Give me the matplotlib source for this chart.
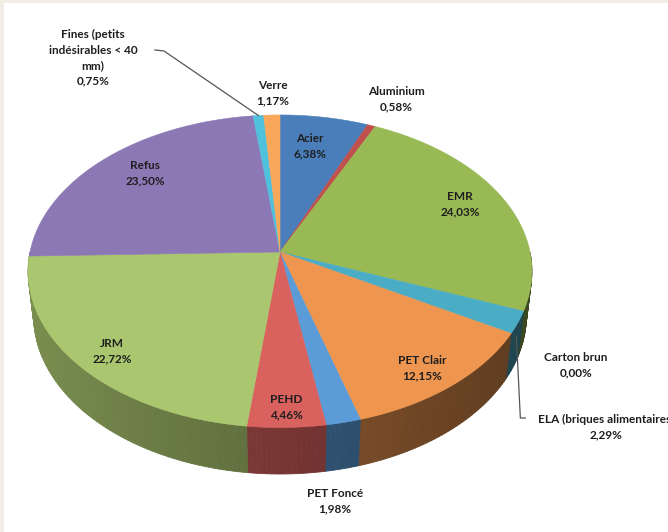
import numpy as np
import matplotlib
matplotlib.use("Agg")
import matplotlib.pyplot as plt
from matplotlib.patches import Rectangle

# ---------------- data ----------------
categories = ["Acier", "Aluminium", "EMR", "Carton brun",
              "ELA (briques alimentaires)", "PET Clair", "PET Foncé", "PEHD",
              "JRM", "Refus", "Fines (petits\nindésirables < 40\nmm)", "Verre"]
values = [6.38, 0.58, 24.03, 0.00, 2.29, 12.15, 1.98, 4.46, 22.72, 23.50, 0.75, 1.17]
colors = ["#4A7EBB", "#C0504D", "#98B954", "#8064A2", "#4BACC6", "#EE964F",
          "#5B9BD8", "#D9615E", "#AAC66E", "#8D78B6", "#4FC1DD", "#F9A85A"]

# ---------------- layout (pixel space) ----------------
W, H = 668, 532
fig = plt.figure(figsize=(W / 100, H / 100), dpi=100)
fig.patch.set_facecolor("#F1EDE4")
ax = fig.add_axes([0, 0, 1, 1])
ax.set_xlim(0, W)
ax.set_ylim(H, 0)
ax.axis("off")
ax.add_patch(Rectangle((4, 3), W, H, facecolor="white", edgecolor="none", zorder=0))

CX, CY = 280.0, 252.0
R = 250.0
ALPHA = np.radians(38)
D = 6.4 * R
THICK = 58.0


def proj(theta_deg, z):
    t = np.radians(theta_deg)
    u = R * np.sin(t)
    v = R * np.cos(t)
    up = v * np.sin(ALPHA) + z * np.cos(ALPHA)
    depth = v * np.cos(ALPHA) - z * np.sin(ALPHA)
    s = D / (D + depth)
    return CX + u * s, CY - up * s


def shade(col, f):
    c = np.array(matplotlib.colors.to_rgb(col))
    return tuple(np.clip(c * f, 0, 1))


total = sum(values)
starts = np.concatenate([[0], np.cumsum(values)[:-1]]) / total * 360
ends = np.cumsum(values) / total * 360

# sides (front half 90..270)
for a0, a1, col in zip(starts, ends, colors):
    lo, hi = max(a0, 90), min(a1, 270)
    if hi <= lo:
        continue
    n = max(2, int((hi - lo) / 1.0) + 1)
    th = np.linspace(lo, hi, n)
    for i in range(n - 1):
        ta, tb = th[i], th[i + 1]
        xa, ya = proj(ta, 0)
        xb, yb = proj(tb, 0)
        xc, yc = proj(tb, -THICK)
        xd, yd = proj(ta, -THICK)
        tm = np.radians((ta + tb) / 2)
        f = 0.55 - 0.17 * np.sin(tm)
        c = shade(col, f)
        ax.fill([xa, xb, xc, xd], [ya, yb, yc, yd], color=c, lw=0.6, ec=c, zorder=2)

# top faces
for a0, a1, col in zip(starts, ends, colors):
    if a1 - a0 <= 0:
        continue
    th = np.linspace(a0, a1, max(3, int(a1 - a0) * 2 + 2))
    xs, ys = proj(th, 0)
    ax.fill(np.r_[CX, xs], np.r_[CY, ys], color=col, lw=0.4, ec=col, zorder=3)


def fmt(v):
    return f"{v:.2f}".replace(".", ",") + "%"


label_pos = {
    "Acier": (310, 146), "Aluminium": (396, 99), "EMR": (460, 204),
    "Carton brun": (576, 365), "ELA (briques alimentaires)": (606, 427),
    "PET Clair": (422, 368), "PET Foncé": (335, 501), "PEHD": (286, 407),
    "JRM": (112, 351), "Refus": (145, 173),
    "Fines (petits\nindésirables < 40\nmm)": (93, 58), "Verre": (273, 93),
}
font = dict(family=["Lato", "DejaVu Sans"], fontweight="bold", fontsize=8.5,
            color="#1E1E1E", ha="center", va="center", linespacing=1.5, zorder=6)
for cat, v in zip(categories, values):
    x, y = label_pos[cat]
    ax.text(x, y, cat + "\n" + fmt(v), **font)

# leader lines
fi = categories.index("Fines (petits\nindésirables < 40\nmm)")
fx, fy = proj((starts[fi] + ends[fi]) / 2, 0)
ax.plot([155, 164, fx], [50, 51, fy], color="#555555", lw=0.9, zorder=5)
ei = categories.index("ELA (briques alimentaires)")
ex, ey = proj((starts[ei] + ends[ei]) / 2, -THICK * 0.3)
ax.plot([ex, ex + 4, ex + 9], [ey, 418, 418], color="#555555", lw=0.9, zorder=5)

fig.savefig("out.png", dpi=100, facecolor=fig.get_facecolor())
